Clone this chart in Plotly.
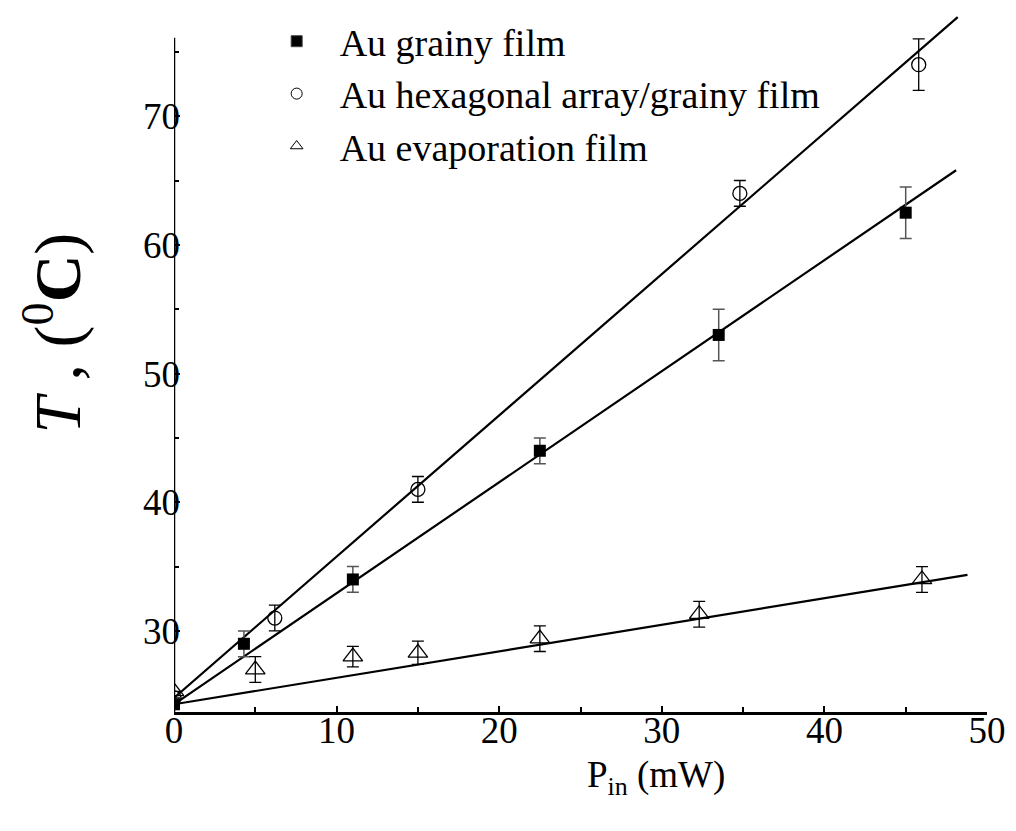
import plotly.graph_objects as go

# --- data ---
grainy_x = [0, 4.3, 11, 22.5, 33.5, 45]
grainy_y = [24.3, 29, 34, 44, 53, 62.5]
grainy_err = [0, 1, 1, 1, 2, 2]

hex_x = [0, 6.2, 15, 34.8, 45.8]
hex_y = [24.8, 31, 41, 64, 74]
hex_err = [0, 1, 1, 1, 2]

evap_x = [0, 5, 11, 15, 22.5, 32.3, 46]
evap_y = [25.3, 27, 28, 28.3, 29.4, 31.3, 34]
evap_err = [0, 1, 0.8, 0.9, 1, 1, 1]

# fitted lines (end points)
fit_grainy_x = [0, 48.1]
fit_grainy_y = [24.3, 65.8]
fit_hex_x = [0, 48.2]
fit_hex_y = [24.8, 77.7]
fit_evap_x = [0, 48.8]
fit_evap_y = [24.3, 34.35]

names = ["Au grainy film", "Au hexagonal array/grainy film", "Au evaporation film"]

FONT = "Liberation Serif, Times New Roman, serif"

fig = go.Figure()

# fit lines
for fx, fy in [(fit_grainy_x, fit_grainy_y), (fit_hex_x, fit_hex_y), (fit_evap_x, fit_evap_y)]:
    fig.add_trace(go.Scatter(x=fx, y=fy, mode="lines", line=dict(color="black", width=2.2),
                             showlegend=False, hoverinfo="skip"))

# data points
fig.add_trace(go.Scatter(
    x=grainy_x, y=grainy_y, mode="markers", showlegend=False,
    marker=dict(symbol="square", size=12, color="black"),
    error_y=dict(type="data", array=grainy_err, color="#555555", thickness=1.5, width=6)))
fig.add_trace(go.Scatter(
    x=hex_x, y=hex_y, mode="markers", showlegend=False,
    marker=dict(symbol="circle-open", size=14, color="black", line=dict(width=1.3)),
    error_y=dict(type="data", array=hex_err, color="black", thickness=1.3, width=6)))
fig.add_trace(go.Scatter(
    x=evap_x, y=evap_y, mode="markers", showlegend=False,
    marker=dict(symbol="triangle-up-open", size=17, color="black", line=dict(width=1.3)),
    error_y=dict(type="data", array=evap_err, color="black", thickness=1.3, width=6)))

# legend entries
for nm, sym in zip(names, ["square", "circle-open", "triangle-up-open"]):
    fig.add_trace(go.Scatter(x=[None], y=[None], mode="markers", name=nm,
                             marker=dict(symbol=sym, size=11, color="black", line=dict(width=1))))

# y axis line (stops at ~76)
fig.add_shape(type="line", xref="x", yref="y", x0=0, x1=0, y0=23.7, y1=76.1,
              line=dict(color="black", width=2.5))

fig.update_layout(
    width=1016, height=831,
    margin=dict(l=174, r=22, t=10, b=119),
    paper_bgcolor="white", plot_bgcolor="white",
    font=dict(family=FONT, color="black", size=36),
    showlegend=True,
    legend=dict(x=0.098, y=1.0, xanchor="left", yanchor="top",
                bgcolor="rgba(0,0,0,0)", font=dict(size=38, family=FONT),
                itemwidth=76, tracegroupgap=0),
    xaxis=dict(range=[0, 50], tickmode="array", tickvals=[0, 10, 20, 30, 40, 50],
               showgrid=False, zeroline=False, showline=True, linecolor="black", linewidth=3,
               ticks="inside", ticklen=6, tickwidth=1.5, tickcolor="black",
               ticklabelstandoff=-16,
               minor=dict(tickvals=[5, 15, 25, 35, 45], ticks="inside", ticklen=5, tickwidth=1.5, tickcolor="black"),
               tickfont=dict(size=37, family=FONT)),
    yaxis=dict(range=[23.7, 78.25], tickmode="array", tickvals=[30, 40, 50, 60, 70],
               showgrid=False, zeroline=False, showline=False,
               ticks="inside", ticklen=6, tickwidth=1.5, tickcolor="black",
               ticklabelstandoff=-7,
               minor=dict(tickvals=[35, 45, 55, 65, 75], ticks="inside", ticklen=5, tickwidth=1.5, tickcolor="black"),
               tickfont=dict(size=37, family=FONT)),
)

fig.add_annotation(text="<i>T</i> , (<sup>0</sup><b>C</b>)", xref="paper", yref="paper",
                   x=-0.148, y=0.54, xanchor="center", yanchor="middle", textangle=-90,
                   showarrow=False, font=dict(size=66, family=FONT))
fig.add_annotation(text="P<sub>in</sub> (mW)", xref="paper", yref="paper",
                   x=0.593, y=-0.093, xanchor="center", yanchor="middle",
                   showarrow=False, font=dict(size=37, family=FONT))

fig.write_html("out.html")
